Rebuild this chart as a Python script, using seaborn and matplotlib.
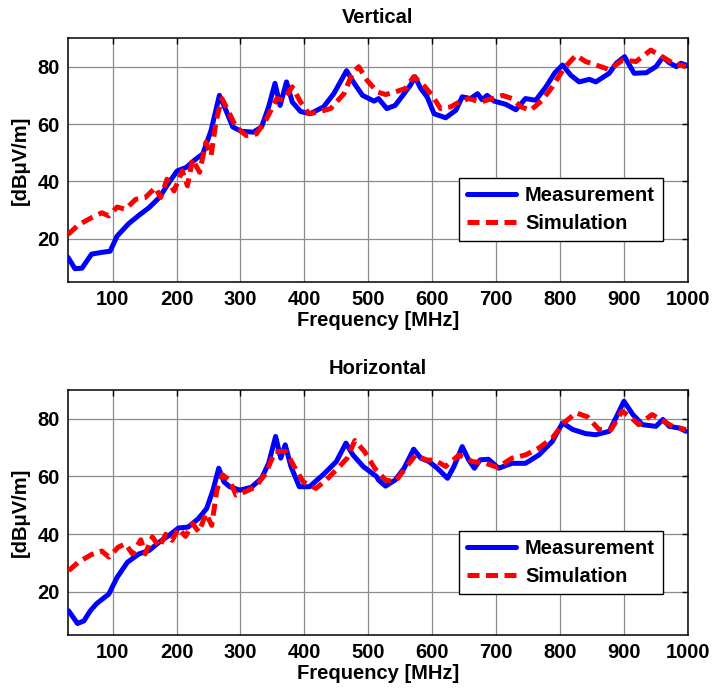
import numpy as np
import pandas as pd
import matplotlib
matplotlib.use("Agg")
import matplotlib.pyplot as plt
import seaborn as sns

# ---------------- data ----------------
v_meas_f = [30, 41, 52, 67, 83, 96, 107, 125, 141, 157, 173, 188, 201, 215, 230, 241, 254, 267, 275,
            288, 301, 320, 333, 344, 354, 362, 372, 381, 394, 409, 430, 446, 466, 478, 491, 509, 516,
            529, 542, 556, 566, 573, 582, 592, 603, 621, 637, 647, 660, 671, 678, 686, 697, 715, 731,
            746, 762, 778, 792, 804, 817, 830, 846, 856, 877, 888, 901, 916, 935, 950, 961, 971, 982,
            989, 997]
v_meas_db = [13.6, 9.6, 9.8, 14.7, 15.3, 15.7, 21.0, 25.3, 28.2, 30.9, 34.4, 39.6, 43.7, 44.9, 47.8,
             49.6, 57.8, 70.0, 66.0, 59.0, 57.5, 57.2, 59.0, 66.0, 74.2, 66.5, 74.7, 67.7, 64.4, 63.6,
             66.0, 70.6, 78.6, 74.2, 70.0, 68.0, 68.9, 65.4, 66.5, 70.6, 73.6, 76.5, 72.4, 69.5, 63.6,
             62.2, 64.8, 69.5, 68.9, 70.6, 68.5, 70.0, 68.0, 66.9, 65.0, 68.9, 68.3, 73.0, 77.9, 80.6,
             77.0, 74.7, 75.6, 74.7, 77.7, 81.2, 83.5, 77.7, 77.9, 80.0, 83.3, 81.4, 80.0, 81.2, 80.6]

v_sim_f = [30, 46, 67, 83, 94, 107, 120, 136, 151, 167, 175, 185, 196, 209, 217, 225, 236, 246, 254,
           262, 271, 283, 293, 309, 325, 341, 357, 367, 381, 394, 407, 422, 441, 462, 475, 485, 498,
           514, 527, 542, 558, 571, 584, 600, 613, 629, 642, 657, 676, 694, 710, 725, 739, 754, 772,
           788, 806, 825, 840, 856, 877, 898, 919, 942, 958, 977, 997]
v_sim_db = [21.5, 24.8, 27.4, 29.1, 28.0, 31.1, 30.3, 33.8, 34.4, 37.9, 34.4, 40.8, 36.7, 43.7, 38.5,
            47.8, 43.2, 53.7, 49.0, 61.3, 68.9, 63.6, 59.0, 56.0, 56.6, 61.9, 68.9, 68.3, 73.0, 67.7,
            63.6, 64.2, 65.4, 70.6, 77.7, 80.0, 75.3, 71.2, 70.3, 71.2, 72.4, 76.5, 74.2, 70.0, 65.4,
            66.0, 67.7, 68.9, 67.7, 68.9, 70.0, 68.9, 66.0, 64.8, 68.3, 73.0, 79.4, 84.0, 81.8, 80.6,
            79.0, 82.3, 81.8, 85.8, 83.7, 81.2, 80.0]

h_meas_f = [31, 45, 55, 65, 75, 94, 107, 123, 141, 157, 173, 188, 203, 218, 234, 247, 257, 266, 274,
            283, 299, 317, 333, 344, 355, 363, 370, 379, 392, 408, 429, 450, 465, 476, 492, 513, 516,
            527, 542, 556, 571, 582, 595, 608, 624, 634, 647, 657, 666, 675, 688, 704, 725, 746, 767,
            788, 804, 820, 840, 856, 877, 890, 900, 914, 929, 950, 961, 971, 987, 997]
h_meas_db = [13.4, 9.0, 9.9, 13.4, 15.9, 19.2, 25.0, 30.2, 33.1, 34.3, 37.2, 39.5, 42.1, 42.4, 45.3,
             48.8, 55.2, 62.8, 58.1, 56.4, 55.2, 56.2, 59.3, 64.5, 73.8, 66.3, 70.9, 63.4, 56.4, 56.4,
             60.5, 65.1, 71.5, 67.4, 63.4, 59.9, 58.7, 56.6, 58.7, 62.8, 69.4, 66.3, 65.1, 62.8, 59.3,
             63.4, 70.3, 65.7, 62.8, 65.7, 65.9, 62.8, 64.5, 64.5, 67.4, 72.1, 78.5, 76.2, 74.8, 74.4,
             75.6, 81.4, 86.0, 81.4, 77.9, 77.3, 79.7, 77.3, 76.7, 75.6]

h_sim_f = [31, 46, 67, 83, 94, 109, 120, 131, 144, 151, 162, 173, 183, 193, 203, 214, 225, 235, 246,
           255, 263, 272, 283, 293, 308, 324, 340, 354, 371, 384, 398, 418, 434, 455, 467, 479, 494,
           510, 527, 542, 558, 574, 590, 605, 621, 642, 663, 684, 702, 725, 746, 767, 788, 806, 825,
           843, 861, 880, 897, 912, 923, 944, 957, 976, 997]
h_sim_db = [27.3, 30.2, 32.9, 34.1, 32.0, 35.5, 36.6, 33.1, 38.0, 33.1, 39.0, 35.5, 39.9, 37.8, 41.9,
            39.2, 43.6, 40.7, 47.1, 43.0, 55.2, 60.5, 58.7, 53.5, 54.7, 56.4, 61.2, 68.6, 68.6, 63.4,
            58.1, 55.8, 58.7, 63.4, 66.3, 72.4, 68.6, 62.8, 58.7, 58.1, 62.8, 67.4, 65.7, 65.5, 63.4,
            67.4, 65.1, 64.5, 63.1, 66.3, 67.4, 69.8, 73.3, 78.5, 82.0, 80.6, 76.2, 76.2, 82.6, 80.2,
            77.9, 81.4, 79.7, 77.3, 76.2]

x_ticks = [100, 200, 300, 400, 500, 600, 700, 800, 900, 1000]
y_ticks = [20, 40, 60, 80]
titles = ["Vertical", "Horizontal"]
series_labels = ["Measurement", "Simulation"]

# ---------------- style ----------------
sns.set_style("white")
plt.rcParams["font.family"] = ["Liberation Sans", "DejaVu Sans"]
plt.rcParams["font.weight"] = "bold"
for k in ["text.color", "axes.labelcolor", "xtick.color", "ytick.color", "axes.edgecolor"]:
    plt.rcParams[k] = "black"
FS = 14.5

fig = plt.figure(figsize=(7.15, 6.91), dpi=100)
ax_top = fig.add_axes([0.095, 0.592, 0.867, 0.353])
ax_bot = fig.add_axes([0.095, 0.081, 0.867, 0.355])

panels = [
    (ax_top, v_meas_f, v_meas_db, v_sim_f, v_sim_db, titles[0]),
    (ax_bot, h_meas_f, h_meas_db, h_sim_f, h_sim_db, titles[1]),
]

for ax, mf, md, sf, sd, title in panels:
    dm = pd.DataFrame({"f": mf, "db": md})
    ds = pd.DataFrame({"f": sf, "db": sd})
    sns.lineplot(data=dm, x="f", y="db", ax=ax, color="#0000ff", linewidth=3.6,
                 estimator=None, sort=False, label=series_labels[0], zorder=3)
    sns.lineplot(data=ds, x="f", y="db", ax=ax, color="#ff0000", linewidth=3.6,
                 estimator=None, sort=False, label=series_labels[1], zorder=4,
                 dashes=False, linestyle=(0, (2.4, 1.3)))
    ax.set_xlim(30, 1000)
    ax.set_ylim(5, 90)
    ax.set_xticks(x_ticks)
    ax.set_yticks(y_ticks)
    ax.grid(True, color="#8c8c8c", linewidth=0.9, linestyle="-")
    ax.set_axisbelow(True)
    ax.tick_params(direction="in", length=4, width=1, top=True, right=True,
                   labelsize=FS, pad=6, color="black", labelcolor="black")
    for lab in ax.get_xticklabels() + ax.get_yticklabels():
        lab.set_fontweight("bold")
    for sp in ax.spines.values():
        sp.set_visible(True)
        sp.set_color("black")
        sp.set_linewidth(1.1)
    ax.set_xlabel("Frequency [MHz]", fontsize=FS, fontweight="bold", labelpad=1, color="black")
    ax.set_ylabel("[dBμV/m]", fontsize=FS, fontweight="bold", labelpad=5, color="black")
    ax.set_title(title, fontsize=FS, fontweight="bold", pad=11, color="black")
    leg = ax.legend(loc="lower right", bbox_to_anchor=(0.96, 0.168), fontsize=FS,
                    frameon=True, fancybox=False, framealpha=1, edgecolor="black",
                    handlelength=2.45, handletextpad=0.45, borderpad=0.4,
                    labelspacing=0.45, borderaxespad=0)
    leg.get_frame().set_linewidth(1.0)
    for t in leg.get_texts():
        t.set_fontweight("bold")
        t.set_color("black")

fig.savefig("out.png", dpi=100)
